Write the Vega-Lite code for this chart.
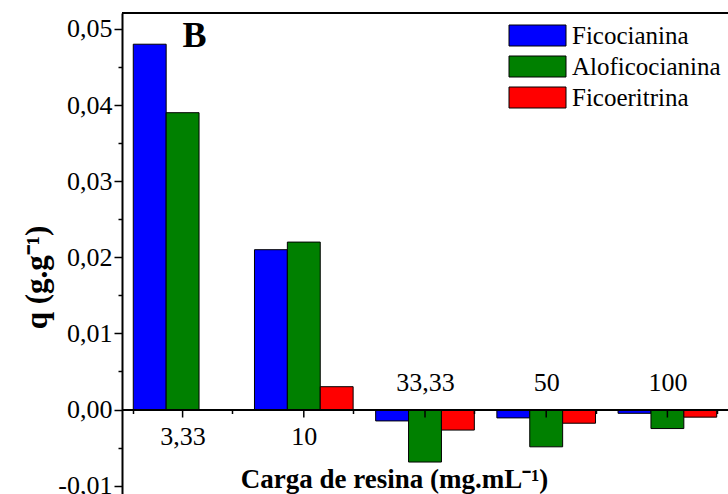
{
  "$schema": "https://vega.github.io/schema/vega-lite/v6.json",
  "width": 606,
  "height": 481,
  "autosize": {"type": "none"},
  "padding": {"left": 122, "top": 13, "right": 0, "bottom": 0},
  "background": "white",
  "config": {"font": "Liberation Serif", "view": {"stroke": null}},
  "datasets": {
    "adsorcao": [
      {"carga": "3,33", "proteina": "Ficocianina", "q": 0.048},
      {"carga": "3,33", "proteina": "Aloficocianina", "q": 0.039},
      {"carga": "3,33", "proteina": "Ficoeritrina", "q": 0.0},
      {"carga": "10", "proteina": "Ficocianina", "q": 0.021},
      {"carga": "10", "proteina": "Aloficocianina", "q": 0.022},
      {"carga": "10", "proteina": "Ficoeritrina", "q": 0.003},
      {"carga": "33,33", "proteina": "Ficocianina", "q": -0.0015},
      {"carga": "33,33", "proteina": "Aloficocianina", "q": -0.0069},
      {"carga": "33,33", "proteina": "Ficoeritrina", "q": -0.0027},
      {"carga": "50", "proteina": "Ficocianina", "q": -0.0011},
      {"carga": "50", "proteina": "Aloficocianina", "q": -0.0049},
      {"carga": "50", "proteina": "Ficoeritrina", "q": -0.0018},
      {"carga": "100", "proteina": "Ficocianina", "q": -0.0005},
      {"carga": "100", "proteina": "Aloficocianina", "q": -0.0025},
      {"carga": "100", "proteina": "Ficoeritrina", "q": -0.001}
    ],
    "cargas": [
      {"carga": "3,33"}, {"carga": "10"}, {"carga": "33,33"}, {"carga": "50"}, {"carga": "100"}
    ]
  },
  "layer": [
    {
      "data": {"name": "adsorcao"},
      "mark": {"type": "bar", "stroke": "black", "strokeWidth": 1},
      "encoding": {
        "x": {
          "field": "carga",
          "type": "nominal",
          "sort": ["3,33", "10", "33,33", "50", "100"],
          "scale": {"paddingInner": 0.186, "paddingOuter": 0.093},
          "axis": {
            "title": "Carga de resina (mg.mL⁻¹)",
            "titleFontSize": 27,
            "titleFontWeight": "bold",
            "titleColor": "black",
            "titleX": 272,
            "titleY": 78,
            "titleAlign": "center",
            "titleBaseline": "alphabetic",
            "offset": -84.5,
            "labelAngle": 0,
            "labelFontSize": 26,
            "labelColor": "black",
            "labelBaseline": "top",
            "labelPadding": {
              "condition": {"test": "indexof(['33,33','50','100'], datum.value) >= 0", "value": -44},
              "value": 10
            },
            "tickBand": "extent",
            "tickSize": 4,
            "tickColor": "black",
            "tickWidth": 1.5,
            "domainColor": "black",
            "domainWidth": 2,
            "zindex": 1
          }
        },
        "xOffset": {
          "field": "proteina",
          "type": "nominal",
          "sort": ["Ficocianina", "Aloficocianina", "Ficoeritrina"],
          "scale": {"paddingInner": 0, "paddingOuter": 0}
        },
        "y": {
          "field": "q",
          "type": "quantitative",
          "scale": {"domain": [-0.0111, 0.0521], "nice": false, "zero": false},
          "axis": {
            "title": "q (g.g⁻¹)",
            "titleFontSize": 31,
            "titleFontWeight": "bold",
            "titleColor": "black",
            "titleAngle": 270,
            "titleX": -76,
            "titleY": 264,
            "titleAlign": "center",
            "titleBaseline": "alphabetic",
            "values": [-0.01, -0.005, 0, 0.005, 0.01, 0.015, 0.02, 0.025, 0.03, 0.035, 0.04, 0.045, 0.05],
            "labelExpr": "round(datum.value * 200) % 2 != 0 ? '' : (datum.value < 0 ? '-' : '') + replace(format(abs(datum.value), '.2f'), '.', ',')",
            "labelFontSize": 26,
            "labelColor": "black",
            "labelPadding": 2,
            "labelOverlap": false,
            "labelFlush": false,
            "tickSize": {
              "condition": {"test": "round(datum.value * 200) % 2 != 0", "value": 4},
              "value": 8
            },
            "tickColor": "black",
            "tickWidth": 1.5,
            "domainColor": "black",
            "domainWidth": 2,
            "grid": false,
            "zindex": 1
          }
        },
        "color": {
          "field": "proteina",
          "type": "nominal",
          "scale": {
            "domain": ["Ficocianina", "Aloficocianina", "Ficoeritrina"],
            "range": ["#0000ff", "#008000", "#ff0000"]
          },
          "legend": {
            "title": null,
            "orient": "none",
            "legendX": 385,
            "legendY": 10,
            "padding": 0,
            "symbolType": "M-1,-1L4.43,-1L4.43,1L-1,1Z",
            "symbolSize": 441,
            "symbolStrokeColor": "black",
            "symbolStrokeWidth": 1,
            "labelFontSize": 25,
            "labelColor": "black",
            "labelOffset": 40,
            "rowPadding": 5
          }
        }
      }
    },
    {
      "data": {"name": "cargas"},
      "mark": {"type": "rule", "color": "black", "strokeWidth": 1.5},
      "encoding": {
        "x": {"field": "carga", "type": "nominal", "sort": ["3,33", "10", "33,33", "50", "100"]},
        "y": {"datum": 0},
        "y2": {"datum": -0.00105}
      }
    },
    {
      "data": {"values": [{}]},
      "mark": {"type": "rule", "color": "black", "strokeWidth": 2},
      "encoding": {"y": {"datum": 0.0521}}
    },
    {
      "data": {"values": [{"painel": "B"}]},
      "mark": {"type": "text", "font": "Liberation Serif", "fontSize": 36, "fontWeight": "bold", "color": "black", "baseline": "middle", "align": "center", "dx": 12},
      "encoding": {
        "x": {"datum": "3,33"},
        "y": {"datum": 0.0491},
        "text": {"field": "painel"}
      }
    }
  ]
}
